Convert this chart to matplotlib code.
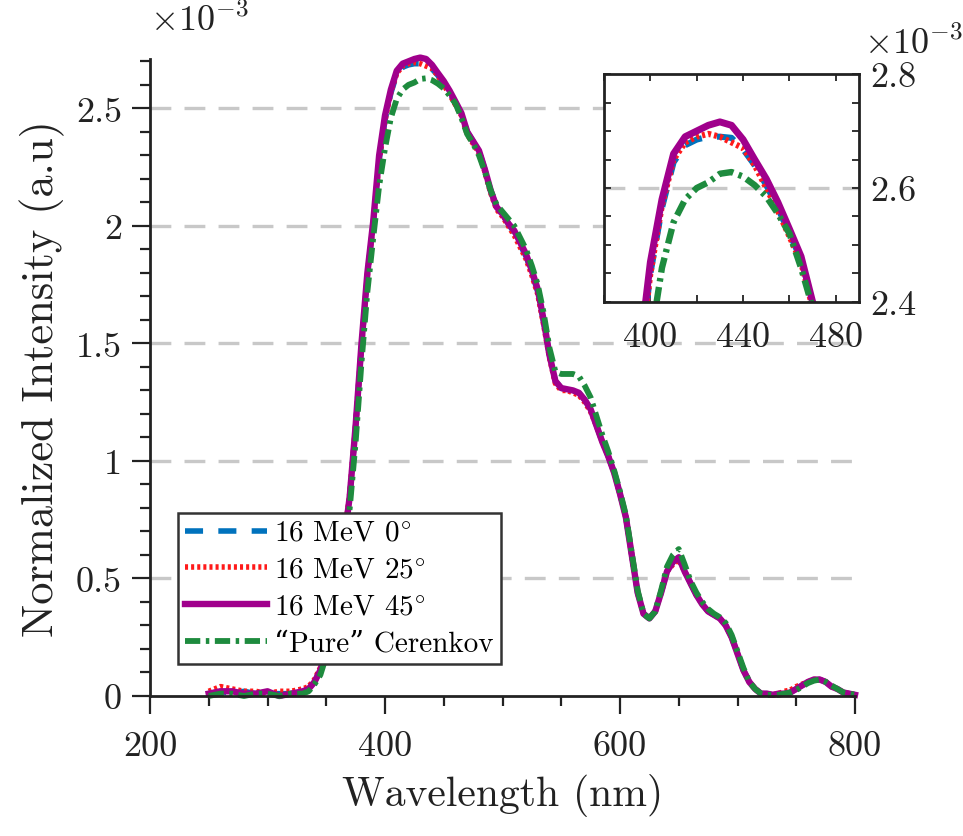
import matplotlib
matplotlib.use("Agg")
import matplotlib.pyplot as plt
from matplotlib.ticker import MultipleLocator, FixedLocator
import numpy as np

plt.rcParams['font.family'] = ['cmr10', 'DejaVu Serif']
plt.rcParams['mathtext.fontset'] = 'cm'
plt.rcParams['axes.unicode_minus'] = False
plt.rcParams['lines.scale_dashes'] = False

# ---------------- data (intensity in units of 1e-3) ----------------
wavelength = [250, 260, 270, 280, 290, 300, 310, 320, 330, 335, 340, 345, 350, 355, 360,
              365, 370, 375, 380, 385, 390, 395, 400, 405, 410, 415, 420, 425, 430, 435,
              440, 445, 450, 455, 460, 465, 470, 475, 480, 485, 490, 495, 500, 505, 510,
              515, 520, 525, 530, 535, 540, 545, 550, 555, 560, 565, 570, 575, 580, 585,
              590, 595, 600, 605, 610, 615, 620, 625, 630, 635, 640, 645, 650, 655, 660,
              665, 670, 675, 680, 685, 690, 695, 700, 705, 710, 715, 720, 725, 730, 735,
              740, 745, 750, 755, 760, 765, 770, 775, 780, 785, 790, 795, 800]

mev16_45 = [0.01, 0.02, 0.02, 0.01, 0.01, 0.02, 0.00, 0.01, 0.02, 0.03, 0.06, 0.11, 0.20, 0.32, 0.47,
            0.65, 0.85, 1.15, 1.50, 1.80, 2.02, 2.30, 2.47, 2.58, 2.66, 2.69, 2.70, 2.71, 2.716, 2.71,
            2.685, 2.65, 2.616, 2.575, 2.528, 2.48, 2.40, 2.36, 2.32, 2.24, 2.15, 2.08, 2.05, 2.01, 1.98,
            1.93, 1.88, 1.81, 1.73, 1.60, 1.45, 1.34, 1.31, 1.305, 1.30, 1.29, 1.26, 1.22, 1.15, 1.08,
            1.02, 0.95, 0.86, 0.76, 0.60, 0.44, 0.35, 0.33, 0.36, 0.44, 0.53, 0.57, 0.59, 0.53, 0.48,
            0.43, 0.39, 0.36, 0.345, 0.33, 0.30, 0.25, 0.18, 0.11, 0.06, 0.03, 0.01, 0.01, 0.005, 0.01,
            0.01, 0.015, 0.03, 0.045, 0.06, 0.07, 0.07, 0.06, 0.04, 0.03, 0.015, 0.01, 0.005]

mev16_0 = [0.01, 0.02, 0.01, 0.02, 0.01, 0.01, 0.01, 0.01, 0.02, 0.03, 0.06, 0.11, 0.20, 0.32, 0.47,
           0.65, 0.85, 1.15, 1.49, 1.79, 2.01, 2.28, 2.45, 2.565, 2.645, 2.675, 2.685, 2.69, 2.69, 2.688,
           2.668, 2.64, 2.605, 2.565, 2.52, 2.475, 2.40, 2.36, 2.32, 2.24, 2.15, 2.08, 2.05, 2.01, 1.97,
           1.92, 1.87, 1.80, 1.72, 1.59, 1.45, 1.34, 1.31, 1.30, 1.30, 1.29, 1.26, 1.22, 1.15, 1.08,
           1.02, 0.95, 0.86, 0.76, 0.60, 0.44, 0.35, 0.33, 0.36, 0.44, 0.53, 0.57, 0.59, 0.53, 0.48,
           0.43, 0.39, 0.36, 0.345, 0.33, 0.30, 0.25, 0.18, 0.11, 0.06, 0.03, 0.01, 0.01, 0.005, 0.01,
           0.01, 0.015, 0.03, 0.045, 0.06, 0.07, 0.07, 0.06, 0.04, 0.03, 0.015, 0.01, 0.005]

mev16_25 = [0.02, 0.04, 0.03, 0.02, 0.02, 0.01, 0.02, 0.02, 0.03, 0.04, 0.07, 0.12, 0.21, 0.33, 0.48,
            0.66, 0.86, 1.15, 1.49, 1.79, 2.01, 2.28, 2.45, 2.57, 2.65, 2.68, 2.69, 2.695, 2.69, 2.68,
            2.67, 2.64, 2.60, 2.56, 2.515, 2.47, 2.39, 2.35, 2.31, 2.23, 2.14, 2.07, 2.04, 2.00, 1.96,
            1.91, 1.86, 1.79, 1.71, 1.58, 1.44, 1.33, 1.30, 1.30, 1.29, 1.28, 1.25, 1.21, 1.15, 1.08,
            1.02, 0.95, 0.86, 0.76, 0.60, 0.44, 0.35, 0.33, 0.36, 0.44, 0.53, 0.56, 0.58, 0.53, 0.48,
            0.43, 0.39, 0.36, 0.345, 0.33, 0.30, 0.25, 0.18, 0.11, 0.06, 0.03, 0.01, 0.01, 0.005, 0.01,
            0.02, 0.025, 0.04, 0.05, 0.06, 0.07, 0.07, 0.06, 0.04, 0.03, 0.015, 0.01, 0.005]

pure_cerenkov = [0.00, 0.01, 0.01, 0.00, 0.01, 0.01, 0.00, 0.01, 0.01, 0.02, 0.05, 0.09, 0.17, 0.28, 0.42,
                 0.60, 0.80, 1.08, 1.42, 1.72, 1.95, 2.17, 2.33, 2.46, 2.54, 2.58, 2.60, 2.61, 2.625, 2.628,
                 2.62, 2.605, 2.585, 2.555, 2.52, 2.46, 2.39, 2.35, 2.30, 2.23, 2.15, 2.09, 2.06, 2.03, 2.00,
                 1.95, 1.90, 1.83, 1.75, 1.63, 1.48, 1.38, 1.37, 1.37, 1.37, 1.36, 1.32, 1.27, 1.19, 1.11,
                 1.04, 0.96, 0.87, 0.77, 0.61, 0.45, 0.35, 0.33, 0.36, 0.45, 0.55, 0.60, 0.625, 0.56, 0.49,
                 0.44, 0.40, 0.37, 0.35, 0.335, 0.31, 0.26, 0.19, 0.12, 0.06, 0.03, 0.01, 0.005, 0.005, 0.005,
                 0.01, 0.015, 0.025, 0.04, 0.055, 0.065, 0.07, 0.06, 0.045, 0.03, 0.015, 0.01, 0.005]

labels = ["16 MeV 0$^{\\circ}$", "16 MeV 25$^{\\circ}$", "16 MeV 45$^{\\circ}$", "\u201cPure\u201d Cerenkov"]
main_yticks = [0, 0.5, 1, 1.5, 2, 2.5]
main_yticklabels = ['0', '0.5', '1', '1.5', '2', '2.5']
main_xticks = [200, 400, 600, 800]
inset_xticks = [400, 440, 480]
inset_yticks = [2.4, 2.6, 2.8]
inset_yticklabels = ['2.4', '2.6', '2.8']

series = [mev16_0, mev16_25, mev16_45, pure_cerenkov]
colors = ['#0072BD', '#FF1A1A', '#A0008C', '#1E8B3E']
styles = [(0, (13, 11)), (0, (2.2, 2.2)), '-', (0, (11, 4, 2.5, 4))]
widths = [4.0, 4.0, 4.6, 4.2]

W, H = 963, 837
fig = plt.figure(figsize=(W / 100, H / 100), dpi=100)

def fx(px):
    return px / W

def fy(py):
    return 1 - py / H

ax = fig.add_axes([fx(150), fy(697), (855 - 150) / W, (697 - 60) / H])
for yv in main_yticks[1:]:
    ax.axhline(yv, color='#c8c8c8', lw=2.4, dashes=(15, 9.5), zorder=0.5)

handles = []
for s, c, ls, lw, lab in zip(series, colors, styles, widths, labels):
    h, = ax.plot(wavelength, s, color=c, ls=ls, lw=lw, label=lab, zorder=2, clip_on=False)
    handles.append(h)

ax.set_xlim(200, 800)
ax.set_ylim(0, 2.71)
ax.set_xticks(main_xticks)
ax.set_yticks(main_yticks)
ax.set_yticklabels(main_yticklabels)
ax.xaxis.set_minor_locator(MultipleLocator(50))
ax.yaxis.set_minor_locator(MultipleLocator(0.1))
ax.tick_params(which='both', direction='out', width=1.6, colors='#222222', labelsize=26,
               labelcolor='#222222')
ax.tick_params(which='major', length=13)
ax.tick_params(axis='x', which='major', pad=12)
ax.tick_params(axis='y', which='major', pad=7)
ax.tick_params(which='minor', length=7)
for sp in ['top', 'right']:
    ax.spines[sp].set_visible(False)
for sp in ['left', 'bottom']:
    ax.spines[sp].set_linewidth(2.0)
    ax.spines[sp].set_color('#222222')
ax.set_xlabel('Wavelength (nm)', fontsize=30, color='#222222', labelpad=8)
ax.set_ylabel('Normalized Intensity (a.u)', fontsize=32, color='#222222', labelpad=8)
ax.text(0.0, 1.035, r'$\times10^{-3}$', transform=ax.transAxes, fontsize=26,
        color='#222222', ha='left', va='bottom')

leg = ax.legend(handles=handles, loc='lower left',
                bbox_to_anchor=(fx(178), fy(665)), bbox_transform=fig.transFigure,
                borderaxespad=0, fontsize=21, handlelength=2.8, handletextpad=0.25,
                labelspacing=0.35, borderpad=0.25, fancybox=False, framealpha=1,
                edgecolor='#333333')
leg.get_frame().set_linewidth(1.8)

# ---------------- inset ----------------
axi = fig.add_axes([fx(604), fy(303), (859 - 604) / W, (303 - 75) / H])
axi.set_facecolor('white')
axi.axhline(2.6, color='#c8c8c8', lw=2.4, dashes=(15, 9.5), zorder=0.5)
for s, c, ls, lw in zip(series, colors, styles, widths):
    axi.plot(wavelength, s, color=c, ls=ls, lw=lw + 0.4, zorder=2)
axi.set_xlim(380, 490)
axi.set_ylim(2.4, 2.8)
axi.set_xticks(inset_xticks)
axi.set_yticks(inset_yticks)
axi.xaxis.set_minor_locator(FixedLocator([380, 420, 460]))
axi.yaxis.set_minor_locator(MultipleLocator(0.05))
axi.yaxis.tick_right()
axi.tick_params(which='both', direction='in', top=True, bottom=True, left=True, right=True,
                width=1.3, colors='#222222', labelsize=26, labelcolor='#222222')
axi.tick_params(which='major', length=5)
axi.tick_params(axis='x', which='major', pad=14)
axi.tick_params(axis='y', which='major', pad=8)
axi.tick_params(which='minor', length=5)
axi.tick_params(axis='y', labelleft=False, labelright=True)
axi.set_yticklabels(inset_yticklabels)
for sp in axi.spines.values():
    sp.set_linewidth(2.0)
    sp.set_color('#222222')
axi.text(1.02, 1.06, r'$\times10^{-3}$', transform=axi.transAxes, fontsize=26,
         color='#222222', ha='left', va='bottom')

fig.savefig('out.png', dpi=100)
